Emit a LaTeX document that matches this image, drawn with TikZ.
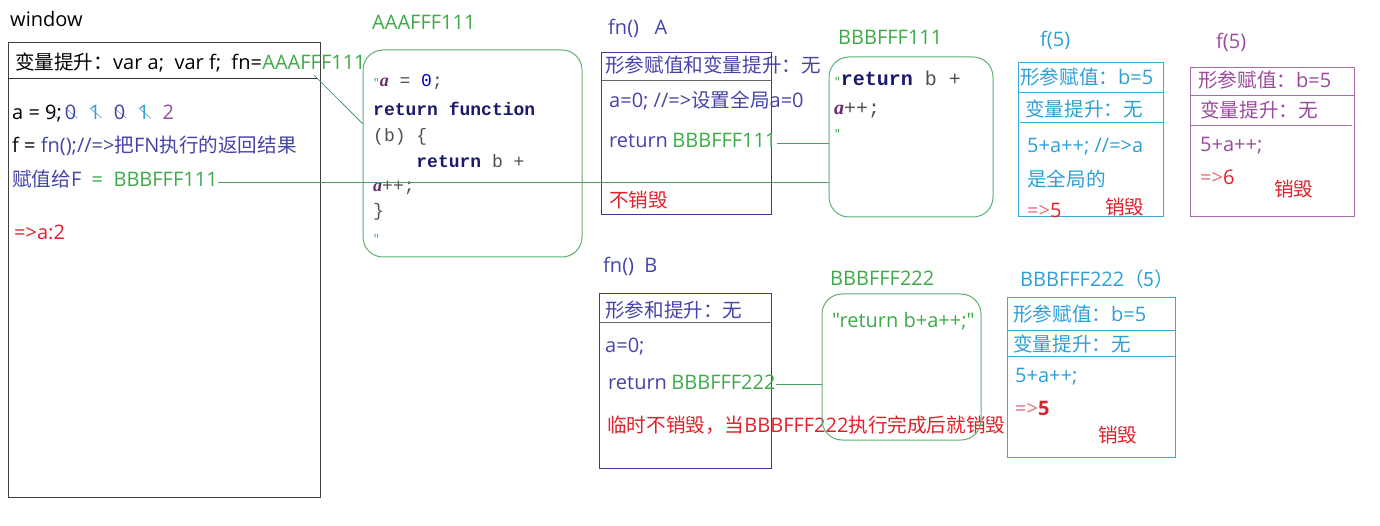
\documentclass[tikz,border=0pt]{standalone}
\usepackage{fontspec}
\usepackage{graphicx}
\setmainfont{Open Sans}
\setmonofont{Liberation Mono}
\newfontfamily\cjk[Scale=0.98]{Noto Sans CJK SC}
\newfontfamily\codeit{Liberation Serif}
\newfontfamily\rawsans[Ligatures=ResetAll]{Open Sans}
\usetikzlibrary{positioning}

\definecolor{tgreen}{HTML}{3DAA48}
\definecolor{boxgreen}{HTML}{5DB070}
\definecolor{linegreen}{HTML}{4C9A6C}
\definecolor{indig}{HTML}{4444A8}
\definecolor{indigbox}{HTML}{3A3A9A}
\definecolor{cyanb}{HTML}{2C9FD6}
\definecolor{cyanbox}{HTML}{3AAAD8}
\definecolor{purp}{HTML}{9A4A9E}
\definecolor{purpbox}{HTML}{A86AA8}
\definecolor{redt}{HTML}{E0202A}
\definecolor{pinkt}{HTML}{E86A7A}
\definecolor{navy}{HTML}{1A1A6A}
\definecolor{codegray}{HTML}{505050}
\definecolor{ipurp}{HTML}{6A2A6A}
\definecolor{strikec}{HTML}{5A9AD0}

% crossed-out digit
\newcommand\strk[2]{\rlap{\color{strikec}\raisebox{0.6em}{\rotatebox{-40}{\rule{0.8em}{0.6pt}}}}\textcolor{#1}{#2}}
\newcommand\va{{\codeit\itshape\bfseries\textcolor{ipurp}{a}}}
\newcommand\kw[1]{\textbf{\textcolor{navy}{#1}}}
\newcommand\qt{{\color{tgreen}\fontsize{11}{11}\selectfont\char34}}
\newcommand\zh[1]{{\cjk #1}}

\begin{document}
\begin{tikzpicture}[x=1pt,y=-1pt,
    txt/.style={anchor=west, inner sep=0pt, font=\fontsize{20}{22}\selectfont,
                text height=15pt, text depth=5pt},
    code/.style={txt, font=\fontsize{18}{20}\selectfont\ttfamily, text=codegray},
    frame/.style={draw, inner sep=0pt, line width=1pt},
    bubble/.style={frame, draw=boxgreen, rounded corners=20pt},
    link/.style={draw=linegreen, line width=0.8pt}]
\useasboundingbox (0,0) rectangle (1380,526);

% window
\node[txt] (wlab) at (10,22) {window};
\node[frame, draw=black!75, minimum width=312pt, minimum height=454pt] (winbox) at (164,270) {};
\node[txt] (hdr) at (15,65) {\zh{变量提升：}var a;\ \ var f;\ \ fn=};
\node[txt, text=tgreen, right=0pt of hdr] (hdrA) {AAAFFF111};
\draw[black!80] (winbox.west |- 0,78) -- (318,78);
\node[txt] (aline) at (12,115) {a = \strk{black}{9};\hspace{3pt}\strk{indig}{0}\hspace{13pt}\strk{cyanb}{1}\hspace{13pt}\strk{indig}{0}\hspace{13pt}\strk{cyanb}{1}\hspace{13pt}\textcolor{purp}{2}};
\node[txt] (fline) at (12,148) {f = \textcolor{indig}{fn();//=>\zh{把}FN\zh{执行的返回结果}}};
\node[txt, text=indig] (assign) at (12,182) {\zh{赋值给}F};
\node[txt, text=tgreen, right=10pt of assign] (retF) {=\ \ BBBFFF111};
\node[txt, text=redt] (res) at (14,235) {=>a:2};

% AAAFFF111
\node[txt, text=tgreen] (aaalab) at (372,25) {AAAFFF111};
\node[bubble, minimum width=219pt, minimum height=207pt] (aaabox) at (472.5,153.5) {};
\node[code] (c1) at (373,82) {\qt\va{} = \textcolor{blue!70!black}{0};};
\node[code] (c2) at (373,111) {\kw{return} \kw{function}};
\node[code] (c3) at (373,137) {(b) \{};
\node[code] (c4) at (373,163) {\ \ \ \ \kw{return} b +};
\node[code] (c5) at (373,187) {\va++;};
\node[code] (c6) at (373,212) {\}};
\node[code] (c7) at (373,238) {\qt};

% fn() A
\node[txt, text=indig] (fnAlab) at (608,30) {fn()\ \ \ A};
\node[frame, draw=indigbox, minimum width=170pt, minimum height=162pt] (fnA) at (686,134) {};
\node[txt, text=indig] (fnAh) at (605,68) {\zh{形参赋值和变量提升：无}};
\draw[black!60] (fnA.west |- 0,80) -- (fnA.east |- 0,80);
\node[txt, text=indig] (fnAa) at (609,103) {a=0; //=>\zh{设置全局}a=0};
\node[txt, text=indig] (fnAr) at (609,143) {return};
\node[txt, text=tgreen, right=4pt of fnAr] (retA) {BBBFFF111};
\node[txt, text=redt] (fnAk) at (609,203) {\zh{不销毁}};

% BBBFFF111
\node[txt, text=tgreen] (b1lab) at (838,40) {BBBFFF111};
\node[bubble, minimum width=164pt, minimum height=160pt] (b1box) at (911,137) {};
\node[code, font=\fontsize{20}{20}\selectfont\ttfamily] (d1) at (834,81) {\qt\kw{return} b +};
\node[code, font=\fontsize{20}{20}\selectfont\ttfamily] (d2) at (834,110) {\va++;};
\node[code] (d3) at (834,133) {\qt};

% f(5) cyan
\node[txt, text=cyanb] (f5clab) at (1040,42) {f(5)};
\node[frame, draw=cyanbox, minimum width=145pt, minimum height=154pt] (f5c) at (1090.5,140) {};
\node[txt, text=cyanb] (f5c1) at (1020,80) {\zh{形参赋值：}b=5};
\draw[cyanbox, line width=1pt] (f5c.west |- 0,93) -- (f5c.east |- 0,93);
\node[txt, text=cyanb] (f5c2) at (1025,112) {\zh{变量提升：无}};
\draw[cyanbox, line width=1pt] (1020,123) -- (f5c.east |- 0,123);
\node[txt, text=cyanb] (f5c3) at (1027,148) {5+a++; //=>a};
\node[txt, text=cyanb] (f5c4) at (1027,182) {\zh{是全局的}};
\node[txt] (f5c5) at (1027,213) {\textcolor{pinkt}{=>}\textcolor{redt}{5}};
\node[txt, text=redt] (f5c6) at (1105,210) {\zh{销毁}};

% f(5) purple
\node[txt, text=purp] (f5plab) at (1216,44) {f(5)};
\node[frame, draw=purpbox, minimum width=164pt, minimum height=149pt] (f5p) at (1272,142.5) {};
\node[txt, text=purp] (f5p1) at (1198,83) {\zh{形参赋值：}b=5};
\draw[purpbox, line width=1pt] (f5p.west |- 0,96) -- (f5p.east |- 0,96);
\node[txt, text=purp] (f5p2) at (1200,113) {\zh{变量提升：无}};
\draw[purpbox, line width=1pt] (f5p.west |- 0,126) -- (1352,126);
\node[txt, text=purp] (f5p3) at (1200,147) {5+a++;};
\node[txt] (f5p4) at (1200,180) {\textcolor{pinkt}{=>}\textcolor{redt}{6}};
\node[txt, text=redt] (f5p5) at (1274,192) {\zh{销毁}};

% fn() B
\node[txt, text=indig] (fnBlab) at (603,268) {fn()\ \ B};
\node[frame, draw=indigbox, minimum width=172pt, minimum height=174pt] (fnB) at (685,381) {};
\node[txt, text=indig] (fnBh) at (605,312) {\zh{形参和提升：无}};
\draw[black!60] (fnB.west |- 0,322) -- (fnB.east |- 0,322);
\node[txt, text=indig] (fnBa) at (605,347) {a=0;};
\node[txt, text=indig] (fnBr) at (608,384) {return};
\node[txt, text=tgreen, right=4pt of fnBr] (retB) {BBBFFF222};
\node[txt, text=redt] (fnBk) at (607,427) {\zh{临时不销毁，当}BBBFFF222\zh{执行完成后就销毁}};

% BBBFFF222
\node[txt, text=tgreen] (b2lab) at (830,281) {BBBFFF222};
\node[bubble, minimum width=159pt, minimum height=146pt] (b2box) at (901.5,367) {};
\node[txt, text=tgreen, font=\fontsize{20}{22}\selectfont\rawsans] (e1) at (832,322) {"return b+a++;"};

% BBBFFF222(5)
\node[txt, text=cyanb] (b2clab) at (1020,282) {BBBFFF222\zh{（5）}};
\node[frame, draw=cyanbox, minimum width=168pt, minimum height=159pt] (b2c) at (1091,377.5) {};
\node[txt, text=cyanb] (b2c1) at (1013,316) {\zh{形参赋值：}b=5};
\draw[cyanbox, line width=1pt] (b2c.west |- 0,330) -- (b2c.east |- 0,330);
\node[txt, text=cyanb] (b2c2) at (1013,346) {\zh{变量提升：无}};
\draw[cyanbox, line width=1pt] (b2c.west |- 0,356) -- (b2c.east |- 0,356);
\node[txt, text=cyanb] (b2c3) at (1015,377) {5+a++;};
\node[txt] (b2c4) at (1015,410) {\textcolor{pinkt}{=>}\textcolor{redt}{\textbf{5}}};
\node[txt, text=redt] (b2c5) at (1098,437) {\zh{销毁}};

% links
\draw[link] (hdrA.south) -- ([yshift=30pt]aaabox.west);
\draw[link] (retF.east) -- (retF.east -| b1box.west);
\draw[link] (retA.east) -- (retA.east -| b1box.west);
\draw[link] (retB.east) -- (retB.east -| b2box.west);
\end{tikzpicture}
\end{document}
